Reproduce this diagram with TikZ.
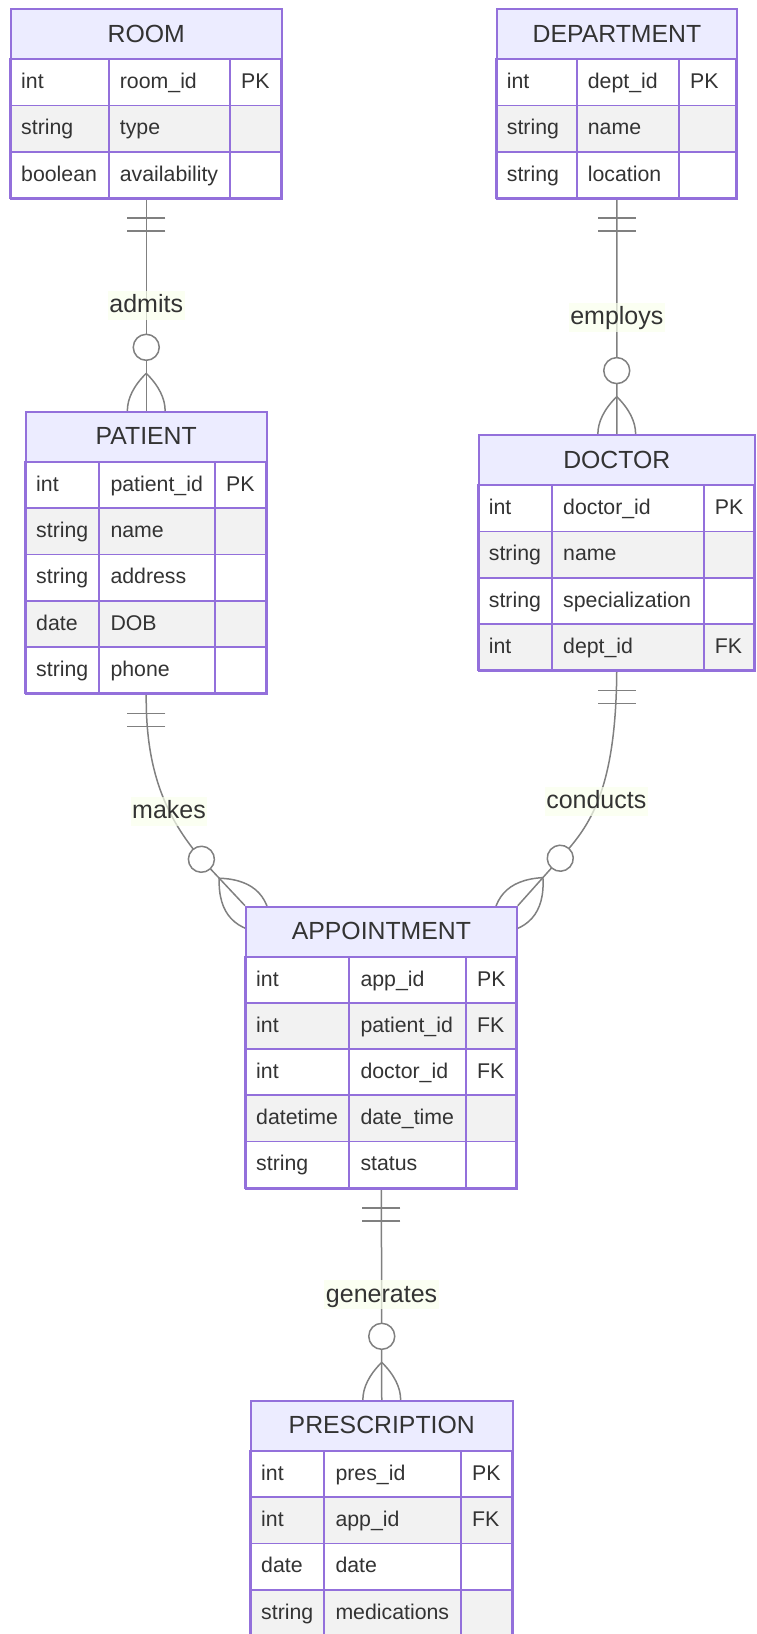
\documentclass[tikz,border=0pt]{standalone}
\usepackage{fontspec}
\setmainfont{Liberation Sans}
\usetikzlibrary{calc}
\definecolor{erline}{HTML}{9370DB}
\definecolor{hdrfill}{HTML}{ECECFF}
\definecolor{rowgray}{HTML}{F2F2F2}
\definecolor{linegray}{HTML}{808080}
\definecolor{txt}{HTML}{333333}
\definecolor{lblbg}{HTML}{F9FFEC}
\pgfdeclarelayer{back}
\pgfsetlayers{back,main}

% #1 name, #2 title, #3 left, #4 top, #5 width, #6 #7 column lines, #8 rows, #9 attributes
\newcommand{\erentity}[9]{%
  \node[hdr, anchor=north west, minimum width=#5pt] (#1h) at (#3,#4) {#2};
  \foreach \t/\n/\k [count=\i] in {#9} {
    \ifodd\i \def\rowfill{white}\else \def\rowfill{rowgray}\fi
    \filldraw[fill=\rowfill, draw=erline, line width=1.8pt] (#3,#4+51+46.2*\i-46.2) rectangle ++(#5,46.2);
    \node[attr] (#1a\i) at (#3+11,#4+51+46.2*\i-23.1) {\t};
    \node[attr] (#1b\i) at (#6+11,#4+51+46.2*\i-23.1) {\n};
    \node[attr] (#1c\i) at (#7+11,#4+51+46.2*\i-23.1) {\k};
  }
  \draw[erline, line width=1.8pt] (#6,#4+51) -- ++(0,46.2*#8) (#7,#4+51) -- ++(0,46.2*#8);
  \node[ent, anchor=north west, minimum width=#5pt, minimum height={51pt+46.2pt*#8}] (#1) at (#3,#4) {};
}

\begin{document}
\begin{tikzpicture}[x=1pt, y=-1pt,
  hdr/.style={draw=erline, fill=hdrfill, line width=1.8pt, minimum height=51pt, inner sep=0pt,
    text=txt, font=\fontsize{24.8}{30}\selectfont, text height=18pt, text depth=3pt},
  attr/.style={anchor=west, inner sep=0pt, text=txt, font=\fontsize{21.3}{26}\selectfont,
    text height=15.3pt, text depth=2.6pt},
  ent/.style={draw=erline, line width=1.8pt, inner sep=0pt},
  conn/.style={draw=linegray, line width=1.5pt},
  rel/.style={fill=lblbg, fill opacity=0.7, text opacity=1, text=txt, inner xsep=1.5pt, inner ysep=4pt,
    font=\fontsize{25}{30}\selectfont, text height=18pt, text depth=3pt},
  onlyone/.pic={\draw[conn] (18.5,-19) -- (18.5,19) (31.5,-19) -- (31.5,19);},
  zeromany/.pic={\draw[conn] (-37.7,0) .. controls (-12.6,25.2) and (12.6,25.2) .. (37.7,0)
      (-37.7,0) .. controls (-12.6,-25.2) and (12.6,-25.2) .. (37.7,0);
    \draw[conn, fill=white] (-63.7,0) circle (13);}]
\useasboundingbox (0,0) rectangle (756,1634);

\erentity{room}{ROOM}{10}{8.3}{270.7}{108.7}{230}{3}%
  {int/room\_id/PK, string/type/, boolean/availability/}
\erentity{department}{DEPARTMENT}{495.7}{8.3}{240.6}{576.7}{679}{3}%
  {int/dept\_id/PK, string/name/, string/location/}
\erentity{patient}{PATIENT}{25}{411}{240.7}{99.3}{215}{5}%
  {int/patient\_id/PK, string/name/, string/address/, date/DOB/, string/phone/}
\erentity{doctor}{DOCTOR}{477.7}{434.3}{276.3}{552}{703.7}{4}%
  {int/doctor\_id/PK, string/name/, string/specialization/, int/dept\_id/FK}
\erentity{appointment}{APPOINTMENT}{245}{905.7}{271}{349.3}{466}{5}%
  {int/app\_id/PK, int/patient\_id/FK, int/doctor\_id/FK, datetime/date\_time/, string/status/}
\erentity{prescription}{PRESCRIPTION}{250}{1400}{261.7}{324.3}{461}{4}%
  {int/pres\_id/PK, int/app\_id/FK, date/date/, string/medications/}

\begin{pgfonlayer}{back}
\coordinate (mk) at ($(appointment.north west)+(-43.6,-46.5)$);
\coordinate (cd) at ($(appointment.north east)+(42.5,-47.6)$);

\draw[conn] (room.south) -- node[rel] (lbadmits) {admits} (patient.north);
\draw[conn] (department.south) -- node[rel] (lbemploys) {employs} (doctor.north);
\draw[conn] (patient.south) .. controls (145.3,780) and (172,824) .. (mk) -- (appointment.north west);
\draw[conn] (doctor.south) .. controls (615.8,790) and (590,826) .. (cd) -- (appointment.north east);
\draw[conn] (appointment.south) -- node[rel] (lbgenerates) {generates} (prescription.north);
\node[rel] (lbmakes) at (169,811) {makes};
\node[rel] (lbconducts) at (596.3,801) {conducts};

\pic[rotate=-90] at (room.south) {onlyone};
\pic[rotate=-90] at (department.south) {onlyone};
\pic[rotate=-90] at (patient.south) {onlyone};
\pic[rotate=-90] at (doctor.south) {onlyone};
\pic[rotate=-90] at (appointment.south) {onlyone};
\pic[rotate=-90] at (patient.north) {zeromany};
\pic[rotate=-90] at (doctor.north) {zeromany};
\pic[rotate=-90] at (prescription.north) {zeromany};
\pic[rotate=-46.8] at (appointment.north west) {zeromany};
\pic[rotate=-131.8] at (appointment.north east) {zeromany};
\end{pgfonlayer}
\end{tikzpicture}
\end{document}
